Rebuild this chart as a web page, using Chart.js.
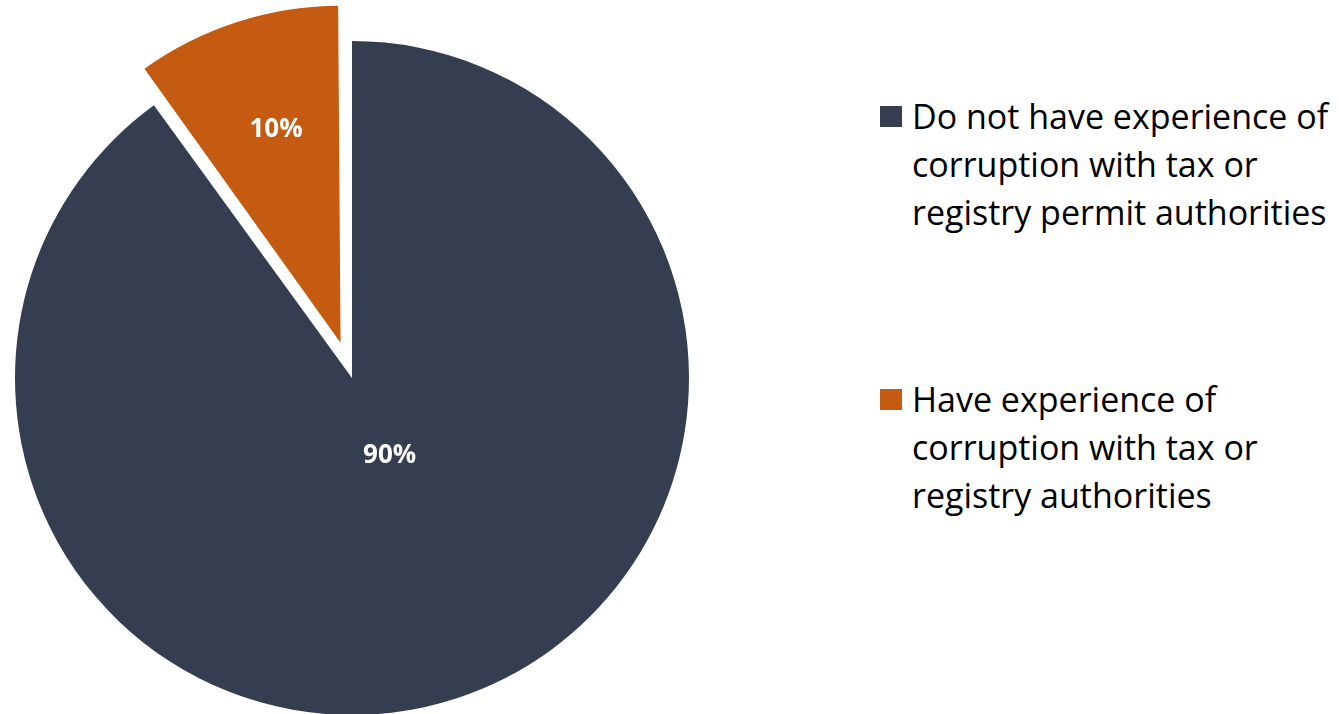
<!DOCTYPE html>
<html>
<head>
<meta charset="utf-8">
<script src="https://cdn.jsdelivr.net/npm/chart.js@4.4.0/dist/chart.umd.min.js"></script>
<style>
    html, body { margin: 0; padding: 0; background: #fff; overflow: hidden; width: 1339px; height: 714px; }
    #pieBox { position: absolute; left: 0; top: 0; width: 704px; height: 756px; }
    .legend-item { position: absolute; left: 880px; font-family: "Open Sans", sans-serif; font-size: 34px; line-height: 48px; color: #000; }
    .legend-item .swatch { position: absolute; left: 0; top: 14px; width: 22px; height: 21px; }
    .legend-item .text { margin-left: 32px; white-space: pre; }
</style>
</head>
<body>
<div id="pieBox"><canvas id="pie"></canvas></div>
<div id="legend"></div>
<script>
// data
const labels = [
    'Have experience of\ncorruption with tax or\nregistry authorities',
    'Do not have experience of\ncorruption with tax or\nregistry permit authorities'
];
const values = [10, 90];
const valueLabels = ['10%', '90%'];
const colors = ['#C55A11', '#343E50'];

// legend is listed the other way round (largest first)
const legendOrder = [1, 0];
const legendTops = [92, 375];

const legendEl = document.getElementById('legend');
legendOrder.forEach(function (idx, i) {
    const item = document.createElement('div');
    item.className = 'legend-item';
    item.style.top = legendTops[i] + 'px';
    const sw = document.createElement('div');
    sw.className = 'swatch';
    sw.style.background = colors[idx];
    const tx = document.createElement('div');
    tx.className = 'text';
    tx.textContent = labels[idx];
    item.appendChild(sw);
    item.appendChild(tx);
    legendEl.appendChild(item);
});

// where each percentage sits: fraction of radius out, and a small angle nudge (rad)
const labelDist = [0.66, 0.255];
const labelNudge = [0.02, -0.14];

// chart.js draws the arc offset at a quarter of the option value
const explode = 37;
const pieRadius = 337;

// chart.js also grows an exploded arc's radius by offset * (1 - sin(circumference));
// shrink it back so the pulled-out slice keeps the same radius as the rest
const keepRadius = {
    id: 'keepRadius',
    beforeDatasetsDraw(chart) {
        const meta = chart.getDatasetMeta(0);
        meta.data.forEach(function (arc) {
            const off = (arc.options.offset || 0) / 4;
            const circ = arc.endAngle - arc.startAngle;
            const fix = 1 - Math.sin(Math.min(Math.PI, circ));
            arc.outerRadius = pieRadius - off * fix;
        });
    }
};

const sliceLabels = {
    id: 'sliceLabels',
    afterDatasetsDraw(chart) {
        const ctx = chart.ctx;
        const meta = chart.getDatasetMeta(0);
        ctx.save();
        ctx.fillStyle = '#fff';
        ctx.font = 'bold 26px "Open Sans", sans-serif';
        ctx.textAlign = 'center';
        ctx.textBaseline = 'middle';
        meta.data.forEach(function (arc, i) {
            const p = arc.getProps(['x', 'y', 'startAngle', 'endAngle']);
            const mid = (p.startAngle + p.endAngle) / 2;
            const off = (arc.options.offset || 0) / 4;
            // start from the (possibly moved) apex of the slice
            const ax = p.x + Math.cos(mid) * off;
            const ay = p.y + Math.sin(mid) * off;
            const a = mid + labelNudge[i];
            const d = labelDist[i] * pieRadius;
            ctx.fillText(valueLabels[i], ax + Math.cos(a) * d, ay + Math.sin(a) * d);
        });
        ctx.restore();
    }
};

new Chart(document.getElementById('pie'), {
    type: 'pie',
    data: {
        labels: labels,
        datasets: [{
            data: values,
            backgroundColor: colors,
            borderWidth: 0,
            offset: [explode * 4, 0],
            hoverOffset: 0
        }]
    },
    options: {
        responsive: true,
        maintainAspectRatio: false,
        animation: false,
        rotation: -36,
        radius: pieRadius,
        layout: { padding: 0 },
        plugins: {
            legend: { display: false },
            tooltip: { enabled: false }
        }
    },
    plugins: [keepRadius, sliceLabels]
});
</script>
</body>
</html>
